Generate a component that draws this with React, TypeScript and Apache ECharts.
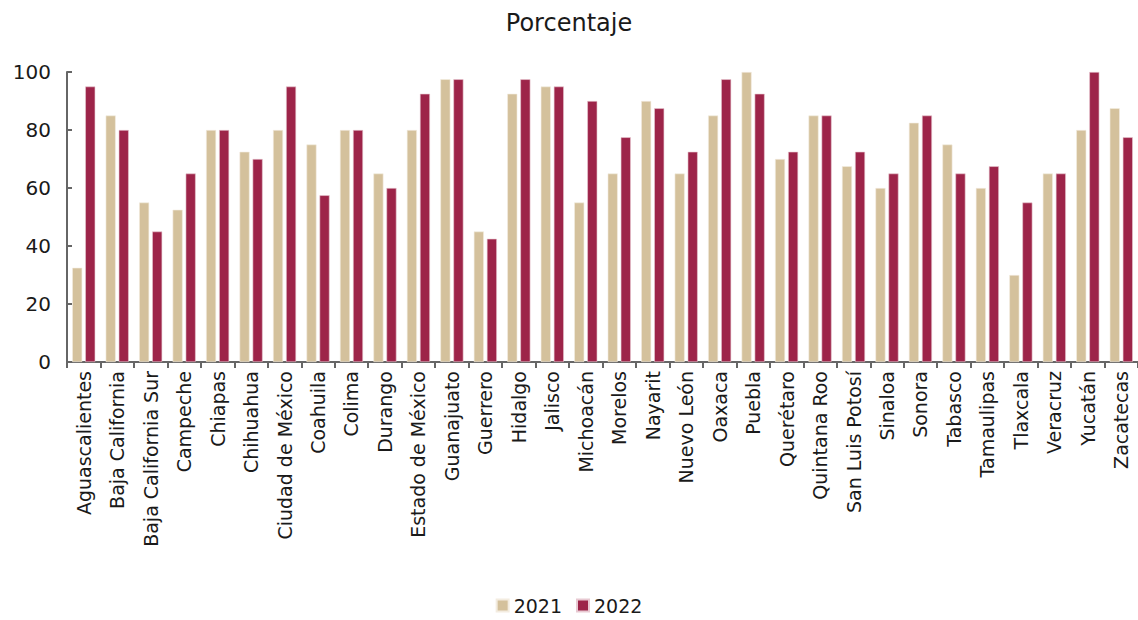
import React, { useEffect, useRef } from "react";
import * as echarts from "echarts";

const categories = [
  "Aguascalientes", "Baja California", "Baja California Sur", "Campeche", "Chiapas",
  "Chihuahua", "Ciudad de México", "Coahuila", "Colima", "Durango", "Estado de México",
  "Guanajuato", "Guerrero", "Hidalgo", "Jalisco", "Michoacán", "Morelos", "Nayarit",
  "Nuevo León", "Oaxaca", "Puebla", "Querétaro", "Quintana Roo", "San Luis Potosí",
  "Sinaloa", "Sonora", "Tabasco", "Tamaulipas", "Tlaxcala", "Veracruz", "Yucatán", "Zacatecas",
];

const values2021 = [
  32.5, 85, 55, 52.5, 80, 72.5, 80, 75, 80, 65, 80, 97.5, 45, 92.5, 95, 55,
  65, 90, 65, 85, 100, 70, 85, 67.5, 60, 82.5, 75, 60, 30, 65, 80, 87.5,
];

const values2022 = [
  95, 80, 45, 65, 80, 70, 95, 57.5, 80, 60, 92.5, 97.5, 42.5, 97.5, 95, 90,
  77.5, 87.5, 72.5, 97.5, 92.5, 72.5, 85, 72.5, 65, 85, 65, 67.5, 55, 65, 100, 77.5,
];

const seriesNames = ["2021", "2022"];
const FONT = "'DejaVu Sans', sans-serif";

export default function App() {
  const ref = useRef<HTMLDivElement>(null);
  useEffect(() => {
    if (!ref.current) return;
    const chart = echarts.init(ref.current, undefined, { renderer: "svg" });
    chart.setOption({
      animation: false,
      textStyle: { fontFamily: FONT },
      title: {
        text: "Porcentaje",
        left: "center",
        top: 6,
        textStyle: { fontFamily: FONT, fontSize: 24, fontWeight: "normal", color: "#1a1a1a" },
      },
      legend: {
        bottom: 0,
        left: "center",
        itemWidth: 12,
        itemHeight: 12,
        icon: "rect",
        itemGap: 14,
        textStyle: { fontFamily: FONT, fontSize: 19, color: "#1a1a1a" },
        data: seriesNames,
      },
      grid: { left: 67, right: 0, top: 72, bottom: 258, containLabel: false },
      xAxis: {
        type: "category",
        data: categories,
        axisLine: { lineStyle: { color: "#666", width: 2 } },
        axisTick: { show: true, length: 6, lineStyle: { color: "#666", width: 2 } },
        axisLabel: {
          rotate: 90,
          interval: 0,
          margin: 9,
          fontFamily: FONT,
          fontSize: 19,
          color: "#1a1a1a",
        },
      },
      yAxis: {
        type: "value",
        min: 0,
        max: 100,
        interval: 20,
        splitLine: { show: false },
        axisLine: { show: true, lineStyle: { color: "#666", width: 2 } },
        axisTick: { show: true, inside: true, length: 5, lineStyle: { color: "#666", width: 2 } },
        axisLabel: { fontFamily: FONT, fontSize: 20, color: "#1a1a1a", margin: 16 },
      },
      series: [
        {
          name: seriesNames[0],
          type: "bar",
          data: values2021,
          barGap: "30%",
          barCategoryGap: "31%",
          itemStyle: { color: "#D4C19C", borderColor: "#f3ece0", borderWidth: 0.6 },
        },
        {
          name: seriesNames[1],
          type: "bar",
          data: values2022,
          barGap: "30%",
          barCategoryGap: "31%",
          itemStyle: { color: "#9D2449", borderColor: "#e8c9d2", borderWidth: 0.6 },
        },
      ],
    });
    return () => chart.dispose();
  }, []);
  return <div ref={ref} style={{ width: 1138, height: 620, position: "absolute", left: 0, top: 0 }} />;
}
